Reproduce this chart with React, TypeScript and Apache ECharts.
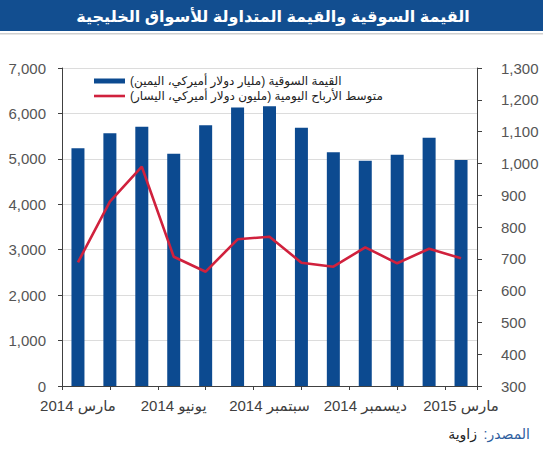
import React, { useEffect, useRef } from "react";
import * as echarts from "echarts";

const RLM = "\u200F";

const months = [
  "مارس 2014", "أبريل 2014", "مايو 2014", "يونيو 2014", "يوليو 2014", "أغسطس 2014",
  "سبتمبر 2014", "أكتوبر 2014", "نوفمبر 2014", "ديسمبر 2014", "يناير 2015", "فبراير 2015", "مارس 2015",
];

// Market value, billion USD (right axis)
const marketValue = [1048, 1095, 1115, 1030, 1120, 1176, 1180, 1112, 1035, 1008, 1027, 1081, 1011];

// Average daily traded value, million USD (left axis)
const dailyAverage = [2723, 4057, 4827, 2846, 2516, 3229, 3287, 2714, 2626, 3053, 2701, 3022, 2811];

const barName = "القيمة السوقية (مليار دولار أميركي، اليمين)" + RLM;
const lineName = "متوسط الأرباح اليومية (مليون دولار أميركي، اليسار)" + RLM;
const titleText = "القيمة السوقية والقيمة المتداولة للأسواق الخليجية";
const sourceLabel = "المصدر:" + RLM;
const sourceName = "زاوية";

const FONT = "Arial, 'Liberation Sans', 'DejaVu Sans', sans-serif";

export default function App() {
  const ref = useRef<HTMLDivElement>(null);

  useEffect(() => {
    if (!ref.current) return;
    const chart = echarts.init(ref.current, undefined, { renderer: "svg" });
    const fmt = (v: number) => v.toLocaleString("en-US");
    chart.setOption({
      animation: false,
      backgroundColor: "#ffffff",
      textStyle: { fontFamily: FONT },
      graphic: [
        { type: "rect", shape: { x: 0, y: 0, width: 543, height: 31 }, style: { fill: "#124E90" }, z: 10 },
        { type: "rect", shape: { x: 0, y: 33, width: 543, height: 1.5 }, style: { fill: "#CFCFCF" }, z: 10 },
        {
          type: "text", x: 273, y: 16, z: 11,
          style: { text: titleText, fill: "#ffffff", font: `bold 16px ${FONT}`, textAlign: "center", textVerticalAlign: "middle" },
        },
        {
          type: "text", x: 530, y: 434, z: 11,
          style: { text: sourceLabel, fill: "#2E5E9E", font: `14px ${FONT}`, textAlign: "right", textVerticalAlign: "middle" },
        },
        {
          type: "text", x: 477, y: 434, z: 11,
          style: { text: sourceName, fill: "#222222", font: `14px ${FONT}`, textAlign: "right", textVerticalAlign: "middle" },
        },
      ],
      legend: {
        orient: "vertical",
        left: 89,
        top: 70,
        itemGap: 3,
        itemWidth: 31,
        itemHeight: 5,
        textStyle: { fontSize: 12, color: "#222222", fontFamily: FONT },
        data: [
          { name: barName, icon: "rect" },
          { name: lineName, icon: "path://M0,0L31,0L31,2.6L0,2.6Z", itemStyle: { color: "#D0213D" } },
        ],
      },
      grid: { left: 62, right: 66, top: 68, bottom: 64, containLabel: false },
      xAxis: [
        {
          type: "category",
          data: months,
          boundaryGap: true,
          axisLine: { show: true, lineStyle: { color: "#404040", width: 1 } },
          axisTick: { show: false },
          axisLabel: { interval: 2, margin: 12, fontSize: 15, color: "#404040", fontFamily: FONT },
        },
        {
          type: "value",
          position: "bottom",
          min: 0,
          max: 13,
          interval: 1.5,
          axisLine: { show: false },
          axisTick: { show: true, length: 4, lineStyle: { color: "#404040" } },
          axisLabel: { show: false },
          splitLine: { show: false },
        },
      ],
      yAxis: [
        {
          type: "value",
          position: "left",
          min: 0,
          max: 7000,
          interval: 1000,
          axisLine: { show: true, lineStyle: { color: "#404040" } },
          axisTick: { show: true, length: 4, lineStyle: { color: "#404040" } },
          axisLabel: { formatter: fmt, margin: 16, fontSize: 15, color: "#555555", fontFamily: FONT },
          splitLine: { show: true, lineStyle: { color: "#DCDCDC", width: 1 } },
        },
        {
          type: "value",
          position: "right",
          min: 300,
          max: 1300,
          interval: 100,
          axisLine: { show: true, lineStyle: { color: "#404040" } },
          axisTick: { show: true, length: 5, lineStyle: { color: "#404040" } },
          axisLabel: { formatter: fmt, margin: 24, fontSize: 15, color: "#555555", fontFamily: FONT, align: "left" },
          splitLine: { show: false },
        },
      ],
      series: [
        {
          name: barName,
          type: "bar",
          xAxisIndex: 0,
          yAxisIndex: 1,
          data: marketValue,
          barWidth: 13,
          itemStyle: { color: "#0C4A90" },
        },
        {
          name: lineName,
          type: "line",
          xAxisIndex: 0,
          yAxisIndex: 0,
          data: dailyAverage,
          symbol: "none",
          showSymbol: false,
          lineStyle: { color: "#D0213D", width: 2.6 },
          itemStyle: { color: "#D0213D" },
          z: 5,
        },
      ],
    });
    return () => chart.dispose();
  }, []);

  return <div ref={ref} style={{ position: "fixed", left: 0, top: 0, width: 543, height: 450 }} />;
}
